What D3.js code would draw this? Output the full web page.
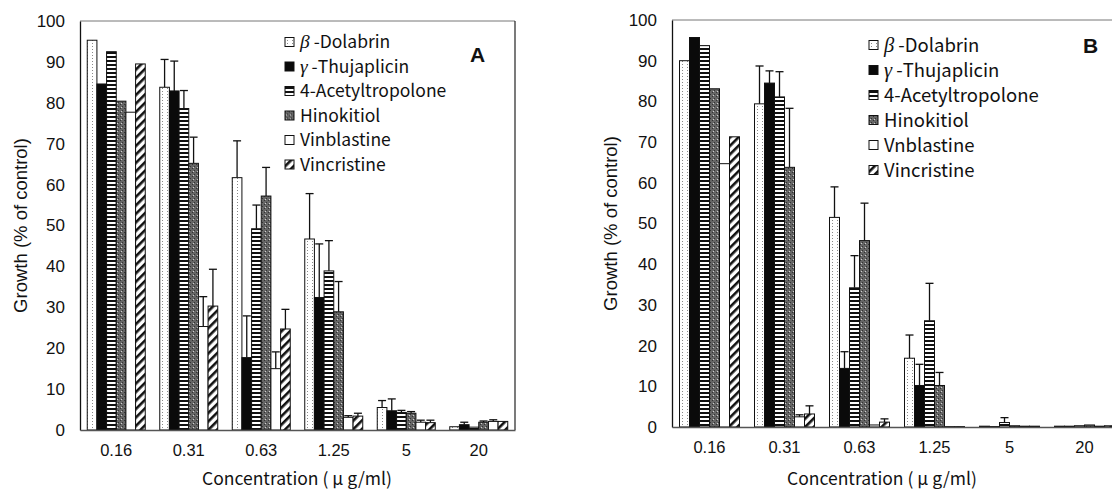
<!DOCTYPE html>
<html>
<head>
<meta charset="utf-8">
<script src="https://cdn.jsdelivr.net/npm/d3@7"></script>
<style>
  body { margin: 0; background: #fff; }
  svg { display: block; }
  text { font-family: "Liberation Sans", Arial, sans-serif; fill: #111; }
  .jp { font-family: "Noto Sans CJK JP", "Liberation Sans", sans-serif; }
</style>
</head>
<body>
<svg id="chart" width="1112" height="489"></svg>
<script>
// concentrations (ug/ml) on the x axis
const concentrations = ["0.16", "0.31", "0.63", "1.25", "5", "20"];
const compounds = ["dol", "thu", "ace", "hin", "vbl", "vcr"];
const yTicks = [0, 10, 20, 30, 40, 50, 60, 70, 80, 90, 100];

// panel A: growth (% of control), one array per compound
const aDolabrin   = [95.3, 83.8, 61.7, 46.7, 5.5, 0.8];
const aThujaplicin = [84.6, 82.9, 17.7, 32.4, 4.7, 1.3];
const aAcetyl     = [92.5, 78.6, 49.2, 38.9, 4.3, 0.7];
const aHinokitiol = [80.4, 65.2, 57.2, 28.9, 4.1, 1.9];
const aVinblastine = [77.7, 25.3, 15.0, 3.1, 1.9, 2.1];
const aVincristine = [89.5, 30.3, 24.7, 3.4, 1.8, 2.1];
// panel A: error bars (upper)
const aDolabrinErr   = [0, 6.8, 9.0, 11.1, 1.7, 0];
const aThujaplicinErr = [0, 7.3, 10.2, 13.1, 2.9, 0.6];
const aAcetylErr     = [0, 4.4, 5.8, 7.4, 0.5, 0];
const aHinokitiolErr = [0, 6.4, 7.0, 7.4, 0.4, 0.3];
const aVinblastineErr = [0, 7.3, 4.1, 0.4, 0.5, 0.4];
const aVincristineErr = [0, 9.0, 4.8, 0.7, 0.6, 0];

// panel B
const bDolabrin   = [90.0, 79.4, 51.5, 16.9, 0.2, 0.2];
const bThujaplicin = [95.7, 84.5, 14.4, 10.2, 0.1, 0.2];
const bAcetyl     = [93.7, 81.1, 34.2, 26.1, 1.1, 0.3];
const bHinokitiol = [83.1, 63.8, 45.8, 10.2, 0.3, 0.5];
const bVinblastine = [64.7, 2.5, 0.5, 0.1, 0.2, 0.2];
const bVincristine = [71.3, 3.2, 1.2, 0.1, 0.2, 0.3];
const bDolabrinErr   = [0, 9.3, 7.5, 5.7, 0, 0];
const bThujaplicinErr = [0, 3.0, 4.1, 5.2, 0, 0];
const bAcetylErr     = [0, 6.2, 7.9, 9.2, 1.2, 0];
const bHinokitiolErr = [0, 14.5, 9.2, 3.2, 0, 0];
const bVinblastineErr = [0, 0.5, 0, 0, 0, 0];
const bVincristineErr = [0, 2.0, 0.8, 0, 0, 0];

const labelsA = ["β", "γ", "4-Acetyltropolone", "Hinokitiol", "Vinblastine", "Vincristine"];
const labelsB = ["β", "γ", "4-Acetyltropolone", "Hinokitiol", "Vnblastine", "Vincristine"];

const svg = d3.select("#chart");
const defs = svg.append("defs");

// fill patterns
const pDol = defs.append("pattern").attr("id", "p-dol").attr("patternUnits", "userSpaceOnUse")
  .attr("width", 5).attr("height", 3);
pDol.append("rect").attr("width", 5).attr("height", 3).attr("fill", "#fff");
pDol.append("rect").attr("x", 2).attr("y", 1).attr("width", 1).attr("height", 1).attr("fill", "#8a8a8a");

const pAce = defs.append("pattern").attr("id", "p-ace").attr("patternUnits", "userSpaceOnUse")
  .attr("width", 4).attr("height", 4);
pAce.append("rect").attr("width", 4).attr("height", 4).attr("fill", "#fff");
pAce.append("rect").attr("y", 0).attr("width", 4).attr("height", 2).attr("fill", "#111");

const pHin = defs.append("pattern").attr("id", "p-hin").attr("patternUnits", "userSpaceOnUse")
  .attr("width", 4).attr("height", 4);
pHin.append("rect").attr("width", 4).attr("height", 4).attr("fill", "#666");
pHin.append("rect").attr("x", 0).attr("y", 0).attr("width", 1).attr("height", 1).attr("fill", "#333");
pHin.append("rect").attr("x", 2).attr("y", 2).attr("width", 1).attr("height", 1).attr("fill", "#333");
pHin.append("rect").attr("x", 1).attr("y", 3).attr("width", 1).attr("height", 1).attr("fill", "#d0d0d0");

const pVcr = defs.append("pattern").attr("id", "p-vcr").attr("patternUnits", "userSpaceOnUse")
  .attr("width", 6).attr("height", 6).attr("patternTransform", "rotate(45)");
pVcr.append("rect").attr("width", 6).attr("height", 6).attr("fill", "#fff");
pVcr.append("rect").attr("width", 2.6).attr("height", 6).attr("fill", "#111");

const fills = {dol: "url(#p-dol)", thu: "#0a0a0a", ace: "url(#p-ace)", hin: "url(#p-hin)", vbl: "#fff", vcr: "url(#p-vcr)"};

function drawPanel(o) {
  const g = svg.append("g");
  const x0 = d3.scaleBand().domain(concentrations).range([o.left, o.right]).padding(0);
  const bw = x0.bandwidth();
  const x1 = d3.scaleBand().domain(compounds).range([bw * 0.1, bw * 0.9]).padding(0);
  const y = d3.scaleLinear().domain([0, 100]).range([o.bottom, o.top]);

  // frame
  g.append("line").attr("x1", o.left).attr("x2", o.right).attr("y1", o.top).attr("y2", o.top)
    .attr("stroke", "#777").attr("stroke-width", 1);
  g.append("line").attr("x1", o.right).attr("x2", o.right).attr("y1", o.top).attr("y2", o.bottom)
    .attr("stroke", "#222").attr("stroke-width", 1.2);

  // y axis
  const ya = g.append("g").attr("transform", `translate(${o.left},0)`)
    .call(d3.axisLeft(y).tickValues(yTicks).tickSize(0).tickPadding(15).tickFormat(d3.format("d")));
  ya.select(".domain").attr("stroke", "#111").attr("stroke-width", 1.3);
  ya.selectAll(".tick text").attr("font-size", 17).attr("font-family", "Liberation Sans, Arial, sans-serif").attr("fill", "#111");

  // bars
  const rows = compounds.map((c, i) => ({c, vals: o.values[i], errs: o.errors[i]}));
  const grp = g.append("g").selectAll("g").data(rows).join("g");
  grp.selectAll("line.err").data(r => r.vals.map((v, j) => ({c: r.c, k: concentrations[j], v, e: r.errs[j]})).filter(d => d.e > 0))
    .join("g").each(function(d) {
      const cx = x0(d.k) + x1(d.c) + x1.bandwidth() / 2;
      const s = d3.select(this);
      s.append("line").attr("x1", cx).attr("x2", cx).attr("y1", y(d.v)).attr("y2", y(d.v + d.e))
        .attr("stroke", "#111").attr("stroke-width", 1.3);
      s.append("line").attr("x1", cx - 4).attr("x2", cx + 4).attr("y1", y(d.v + d.e)).attr("y2", y(d.v + d.e))
        .attr("stroke", "#111").attr("stroke-width", 1.3);
    });
  grp.selectAll("rect").data(r => r.vals.map((v, j) => ({c: r.c, k: concentrations[j], v})))
    .join("rect")
    .attr("x", d => x0(d.k) + x1(d.c))
    .attr("width", x1.bandwidth())
    .attr("y", d => y(d.v))
    .attr("height", d => y(0) - y(d.v))
    .attr("fill", d => fills[d.c])
    .attr("stroke", "#111").attr("stroke-width", 1);

  // x axis
  const xa = g.append("g").attr("transform", `translate(0,${o.bottom})`)
    .call(d3.axisBottom(x0).tickSize(0).tickPadding(14));
  xa.select(".domain").attr("stroke", "#555").attr("stroke-width", 1.3);
  xa.selectAll(".tick text").attr("font-size", 16.5).attr("font-family", "Liberation Sans, Arial, sans-serif").attr("fill", "#111");

  // titles
  g.append("text").attr("transform", `translate(${o.yTitleX},${(o.top + o.bottom) / 2}) rotate(-90)`)
    .attr("text-anchor", "middle").attr("dy", "0.35em").attr("font-size", 18.5)
    .text("Growth (% of control)");
  g.append("text").attr("class", "jp").attr("x", o.xTitleX).attr("y", 485)
    .attr("text-anchor", "middle").attr("font-size", 17.5)
    .text("Concentration ( μ g/ml)");
  g.append("text").attr("x", o.letterX).attr("y", o.letterY)
    .attr("font-size", 21).attr("font-weight", "bold").text(o.letter);

  // legend
  const lg = g.append("g").selectAll("g").data(compounds).join("g")
    .attr("transform", (d, i) => `translate(${o.legX},${o.legY + i * o.legStep})`);
  lg.append("rect").attr("x", 0).attr("y", -4.5).attr("width", 9).attr("height", 9)
    .attr("fill", d => fills[d]).attr("stroke", "#111").attr("stroke-width", 1);
  lg.append("text").attr("class", "jp").attr("x", 15).attr("dy", "0.36em").attr("font-size", o.legFont)
    .each(function(d, i) {
      const t = d3.select(this);
      const lab = o.labels[i];
      if (i === 0 || i === 1) {
        t.append("tspan").attr("font-style", "italic").attr("font-family", "Liberation Serif, serif").attr("font-size", o.legFont + 2).text(lab);
        t.append("tspan").text(i === 0 ? " -Dolabrin" : " -Thujaplicin");
      } else {
        t.text(lab);
      }
    });
}

drawPanel({
  left: 80, right: 515, top: 21, bottom: 430,
  values: [aDolabrin, aThujaplicin, aAcetyl, aHinokitiol, aVinblastine, aVincristine],
  errors: [aDolabrinErr, aThujaplicinErr, aAcetylErr, aHinokitiolErr, aVinblastineErr, aVincristineErr],
  labels: labelsA, yTitleX: 21, xTitleX: 297,
  letter: "A", letterX: 470, letterY: 62,
  legX: 285, legY: 42, legStep: 24.5, legFont: 17.5
});

drawPanel({
  left: 672, right: 1122, top: 20, bottom: 427,
  values: [bDolabrin, bThujaplicin, bAcetyl, bHinokitiol, bVinblastine, bVincristine],
  errors: [bDolabrinErr, bThujaplicinErr, bAcetylErr, bHinokitiolErr, bVinblastineErr, bVincristineErr],
  labels: labelsB, yTitleX: 611, xTitleX: 882,
  letter: "B", letterX: 1083, letterY: 53,
  legX: 869, legY: 45, legStep: 25, legFont: 18.5
});
</script>
</body>
</html>
